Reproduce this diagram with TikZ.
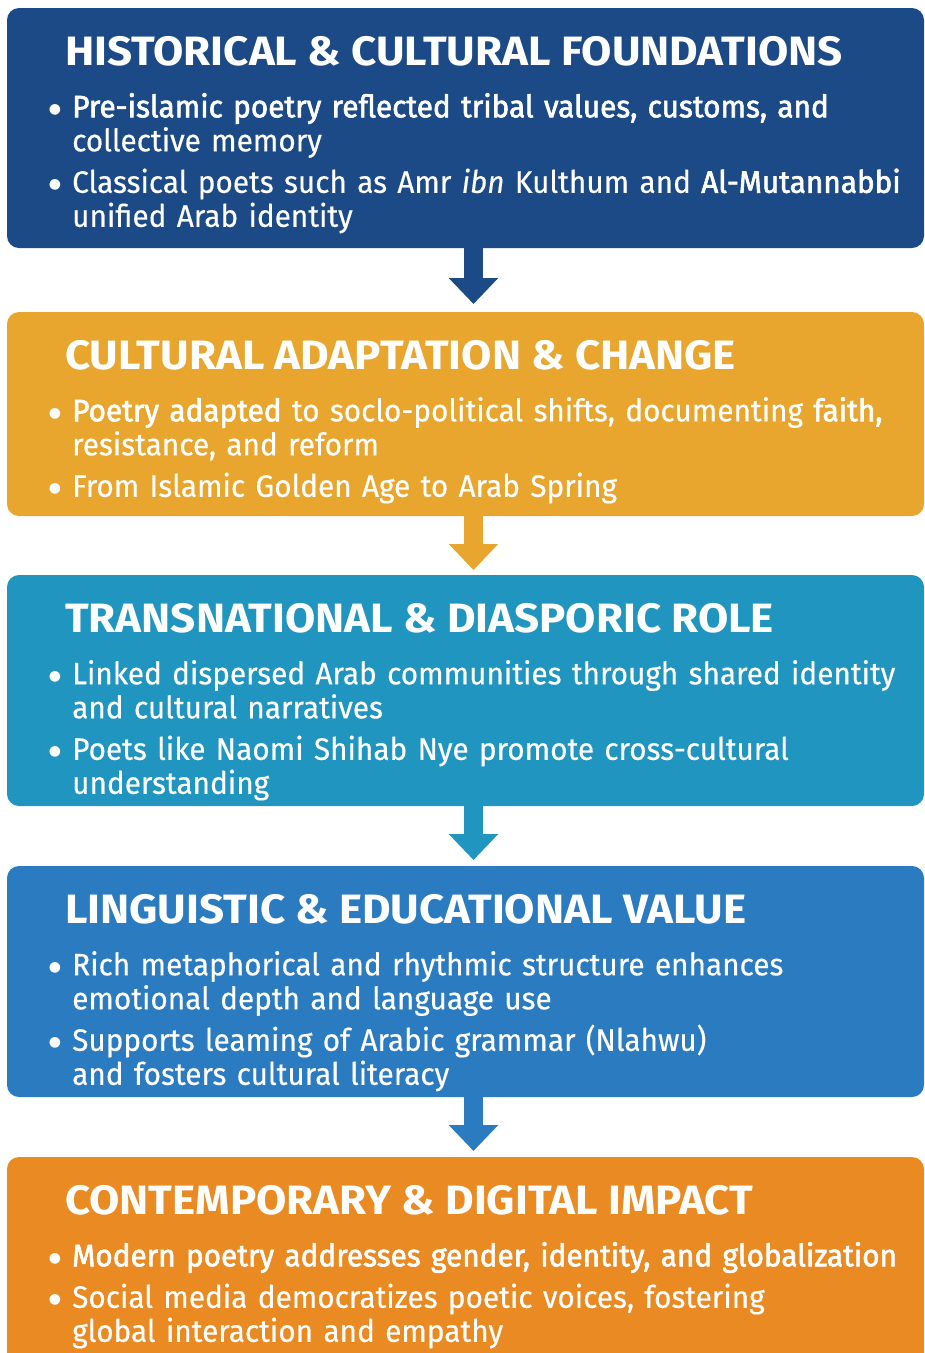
\documentclass[tikz,border=0pt]{standalone}
\usepackage{fontspec}
\setmainfont{Fira Sans}[FakeStretch=0.96,FakeBold=0.4]
\newfontfamily\headfont{Fira Sans}[FakeStretch=1.07]
\newfontfamily\semifont{Fira Sans}[FakeStretch=0.96,FakeBold=2]
\newfontfamily\dotfont{DejaVu Sans}
\usetikzlibrary{positioning,arrows.meta}
\definecolor{histblue}{RGB}{27,74,134}
\definecolor{adaptgold}{RGB}{232,166,46}
\definecolor{transteal}{RGB}{32,149,191}
\definecolor{lingblue}{RGB}{43,123,192}
\definecolor{contorange}{RGB}{233,138,34}
\newcommand{\boxhead}[1]{{\headfont\bfseries\fontsize{41}{41}\selectfont\hspace*{-7pt}#1\par}\vspace{10.5pt}}
\newcommand{\bpoint}[1]{\noindent\llap{{\dotfont\fontsize{14}{14}\selectfont\raisebox{4pt}{●}}\hspace{11pt}}#1\par}

\begin{document}
\begin{tikzpicture}[x=1pt,y=1pt,
				stage/.style={rectangle,rounded corners=12pt,minimum width=917pt,inner sep=0pt,outer sep=0pt},
				txt/.style={text width=860pt,align=left,inner sep=0pt,text=white,font=\fontsize{31}{34}\selectfont,
					execute at begin node={\parskip=7.5pt\parindent=0pt}},
				flow/.style={line width=19pt,-{Triangle[width=48pt,length=26pt]}}]
				\useasboundingbox (0,0) rectangle (925,-1353);
				\node (hist)  [stage,fill=histblue,minimum height=240pt,anchor=north west] at (7,-8) {};
				\node (adapt) [stage,fill=adaptgold,minimum height=204pt,below=64pt of hist] {};
				\node (trans) [stage,fill=transteal,minimum height=231pt,below=59pt of adapt] {};
				\node (ling)  [stage,fill=lingblue,minimum height=231pt,below=60pt of trans] {};
				\node (cont)  [stage,fill=contorange,minimum height=240pt,below=60pt of ling] {};

				\node (histtxt)  [txt,below right=28pt and 65pt of hist.north west] {\boxhead{HISTORICAL \& CULTURAL FOUNDATIONS}
					\bpoint{{\semifont Pre-islamic poetry reflected tribal values, customs, and}\\collective memory}
					\bpoint{Classical poets such as Amr \textit{ibn} Kulthum and {\semifont Al-Mutannabbi}\\unified Arab identity}};
				\node (adapttxt) [txt,below right=28pt and 65pt of adapt.north west] {\boxhead{CULTURAL ADAPTATION \& CHANGE}
					\bpoint{{\semifont Poetry adapted} to soclo-political shifts, documenting {\semifont faith,}\\resistance, and reform}
					\bpoint{From Islamic Golden Age to Arab Spring}};
				\node (transtxt) [txt,below right=28pt and 65pt of trans.north west] {\boxhead{TRANSNATIONAL \& DIASPORIC ROLE}
					\bpoint{Linked dispersed Arab communities through shared identity\\and cultural narratives}
					\bpoint{Poets like Naomi Shihab Nye promote cross-cultural\\understanding}};
				\node (lingtxt)  [txt,below right=28pt and 65pt of ling.north west] {\boxhead{LINGUISTIC \& EDUCATIONAL VALUE}
					\bpoint{Rich metaphorical and rhythmic structure enhances\\emotional depth and language use}
					\bpoint{Supports leaming of Arabic grammar (Nlahwu)\\and fosters cultural literacy}};
				\node (conttxt)  [txt,below right=28pt and 65pt of cont.north west] {\boxhead{CONTEMPORARY \& DIGITAL IMPACT}
					\bpoint{{\semifont Modern poetry addresses gender, identity, and globalization}}
					\bpoint{Social media democratizes poetic voices, fostering\\global interaction and empathy}};

				\draw[flow,histblue]   ([xshift=8pt]hist.south)  -- ([xshift=8pt,yshift=8pt]adapt.north);
				\draw[flow,adaptgold]  ([xshift=8pt]adapt.south) -- ([xshift=8pt,yshift=5pt]trans.north);
				\draw[flow,transteal]  ([xshift=8pt]trans.south) -- ([xshift=8pt,yshift=6pt]ling.north);
				\draw[flow,lingblue]   ([xshift=8pt]ling.south)  -- ([xshift=8pt,yshift=6pt]cont.north);
			\end{tikzpicture}
\end{document}
